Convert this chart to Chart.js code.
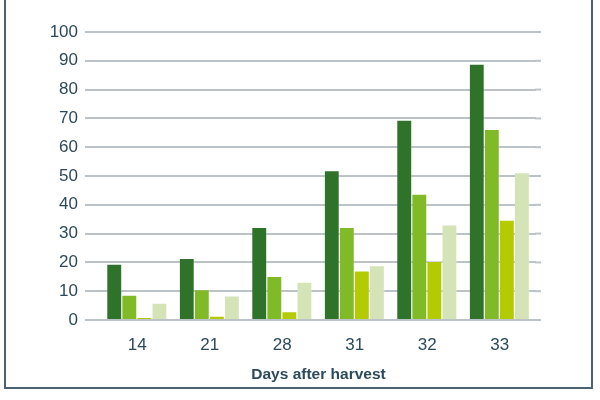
<!DOCTYPE html>
<html lang="en">

<head>
    <meta charset="UTF-8">
    <title>Days after harvest</title>
    <script src="https://cdn.jsdelivr.net/npm/chart.js"></script>
    <style>
        * {
            margin: 0;
            padding: 0;
            box-sizing: border-box;
        }

        body {
            background-color: #ffffff;
            width: 600px;
            height: 400px;
            overflow: hidden;
            position: relative;
        }

        .frame {
            position: absolute;
            left: 4px;
            top: -10px;
            width: 589px;
            height: 399px;
            border: 2px solid #4b6272;
        }

        canvas {
            position: absolute;
            left: 0;
            top: 0;
        }
    </style>
</head>

<body>
    <div class="frame"></div>
    <canvas id="harvestChart" width="600" height="400"></canvas>

    <script>
        // Days after harvest
        const days = ['14', '21', '28', '31', '32', '33'];
        const seriesA = [19.5, 21.5, 32.3, 52, 69.5, 89];
        const seriesB = [8.8, 10.7, 15.3, 32.3, 43.8, 66.3];
        const seriesC = [1, 1.5, 3, 17.2, 20.5, 34.8];
        const seriesD = [6, 8.5, 13.3, 19, 33.2, 51.3];
        const yStep = 10;
        const yMax = 100;

        const textColor = '#2c4a5c';
        const gridColor = '#bcc3c8';

        function bars(data, color) {
            return {
                data: data,
                backgroundColor: color,
                borderColor: 'rgba(255,255,255,0.35)',
                borderWidth: { left: 0, right: 1, top: 1, bottom: 0 },
                borderSkipped: 'bottom'
            };
        }

        // stretch the grid lines a little past the right edge of the plot
        const gridExtend = {
            id: 'gridExtend',
            beforeDatasetsDraw(chart) {
                const y = chart.scales.y;
                const area = chart.chartArea;
                const c = chart.ctx;
                c.save();
                c.strokeStyle = gridColor;
                c.lineWidth = 2;
                y.ticks.forEach(t => {
                    const py = y.getPixelForValue(t.value);
                    c.beginPath();
                    c.moveTo(area.right - 1, py);
                    c.lineTo(area.right + 5, py);
                    c.stroke();
                });
                c.restore();
            }
        };

        const ctx = document.getElementById('harvestChart').getContext('2d');

        new Chart(ctx, {
            type: 'bar',
            data: {
                labels: days,
                datasets: [
                    bars(seriesA, '#2f722a'),
                    bars(seriesB, '#80ba27'),
                    bars(seriesC, '#b4cb02'),
                    bars(seriesD, '#d5e4b6')
                ]
            },
            plugins: [gridExtend],
            options: {
                responsive: false,
                animation: false,
                devicePixelRatio: 1,
                layout: {
                    padding: { left: 20, right: 64, top: 32, bottom: 12 }
                },
                plugins: {
                    legend: { display: false },
                    tooltip: { enabled: false }
                },
                datasets: {
                    bar: {
                        categoryPercentage: 0.83,
                        barPercentage: 1
                    }
                },
                scales: {
                    x: {
                        grid: { display: false },
                        border: { display: false },
                        ticks: {
                            color: textColor,
                            font: { family: 'Liberation Sans', size: 17 },
                            padding: 7
                        },
                        title: {
                            display: true,
                            text: 'Days after harvest',
                            color: textColor,
                            font: { family: 'Liberation Sans', size: 15.5, weight: 'bold' },
                            padding: { top: 3 }
                        }
                    },
                    y: {
                        min: 0,
                        max: yMax,
                        afterFit: axis => {
                            axis.width = 81;
                        },
                        border: { display: false },
                        grid: {
                            color: gridColor,
                            lineWidth: 2,
                            drawTicks: true,
                            tickLength: 16,
                            tickColor: gridColor
                        },
                        ticks: {
                            stepSize: yStep,
                            autoSkip: false,
                            color: textColor,
                            font: { family: 'Liberation Sans', size: 17 },
                            padding: 7
                        }
                    }
                }
            }
        });
    </script>
</body>

</html>
